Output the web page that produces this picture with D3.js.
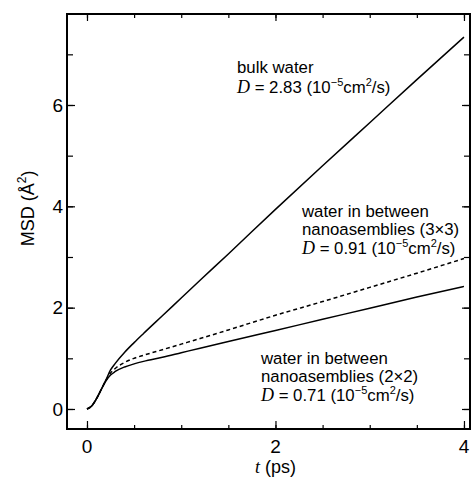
<!DOCTYPE html>
<html>
<head>
<meta charset="utf-8">
<script src="https://cdn.jsdelivr.net/npm/d3@7"></script>
<style>
  body { margin: 0; background: #fff; }
  text { font-family: 'Liberation Sans', Arial, sans-serif; }
</style>
</head>
<body>
<div id="chart"></div>
<script>
// data
let times = [0, 0.05, 0.1, 0.15, 0.2, 0.25, 0.3, 0.4, 0.5, 0.6, 0.8, 1.0, 1.2, 1.5, 2, 2.5, 3, 3.5, 4]
let bulkMsd = [0, 0.06, 0.2, 0.38, 0.57, 0.77, 0.9, 1.12, 1.31, 1.49, 1.84, 2.19, 2.54, 3.06, 3.94, 4.8, 5.65, 6.5, 7.34]
let msd3x3 = [0, 0.06, 0.2, 0.38, 0.56, 0.71, 0.8, 0.92, 1.0, 1.06, 1.17, 1.28, 1.39, 1.56, 1.85, 2.12, 2.4, 2.68, 2.97]
let msd2x2 = [0, 0.06, 0.2, 0.38, 0.55, 0.67, 0.74, 0.83, 0.89, 0.94, 1.02, 1.11, 1.2, 1.33, 1.55, 1.77, 1.99, 2.21, 2.42]
let xTicks = [0, 2, 4]
let yTicks = [0, 2, 4, 6]

let margin = { top: 14, left: 67, right: 2, bottom: 50 }
let width = 472 - margin.left - margin.right
let height = 479 - margin.top - margin.bottom

let svg = d3
  .select('#chart')
  .append('svg')
  .attr('width', 472)
  .attr('height', 479)
  .append('g')
  .attr('transform', 'translate(' + margin.left + ',' + margin.top + ')')

let xScale = d3.scaleLinear().domain([-0.212, 4.064]).range([0, width])
let yScale = d3.scaleLinear().domain([-0.395, 7.796]).range([height, 0])

let series = [
  { name: 'bulk', values: bulkMsd, dash: null },
  { name: '3x3', values: msd3x3, dash: '4,3' },
  { name: '2x2', values: msd2x2, dash: null }
]

let line = d3.line()
  .x(d => xScale(d[0]))
  .y(d => yScale(d[1]))
  .curve(d3.curveMonotoneX)

svg.selectAll('.msd-line')
  .data(series)
  .enter()
  .append('path')
  .attr('class', 'msd-line')
  .attr('d', d => line(times.map((t, i) => [t, d.values[i]])))
  .attr('fill', 'none')
  .attr('stroke', '#000')
  .attr('stroke-width', 1.5)
  .attr('stroke-dasharray', d => d.dash)

// ticks on all four sides, pointing inward
let xMinor = d3.range(0, 4.01, 0.5)
let yMinor = d3.range(0, 7.01, 1)

let bottomAxis = svg.append('g').attr('transform', `translate(0,${height})`)
bottomAxis.call(d3.axisTop(xScale).tickValues(xMinor).tickSize(4).tickFormat(''))
bottomAxis.append('g').call(d3.axisTop(xScale).tickValues(xTicks).tickSize(8).tickFormat(''))

let topAxis = svg.append('g')
topAxis.call(d3.axisBottom(xScale).tickValues(xMinor).tickSize(4).tickFormat(''))
topAxis.append('g').call(d3.axisBottom(xScale).tickValues(xTicks).tickSize(7).tickFormat(''))

let leftAxis = svg.append('g')
leftAxis.call(d3.axisRight(yScale).tickValues(yMinor).tickSize(6).tickFormat(''))
leftAxis.append('g').call(d3.axisRight(yScale).tickValues(yTicks).tickSize(8).tickFormat(''))

let rightAxis = svg.append('g').attr('transform', `translate(${width},0)`)
rightAxis.call(d3.axisLeft(yScale).tickValues(yMinor).tickSize(6).tickFormat(''))
rightAxis.append('g').call(d3.axisLeft(yScale).tickValues(yTicks).tickSize(8).tickFormat(''))

svg.selectAll('.domain').remove()
svg.selectAll('.tick line').attr('stroke', '#000').attr('stroke-width', 1.2)

svg.append('rect')
  .attr('x', 0)
  .attr('y', 0)
  .attr('width', width)
  .attr('height', height)
  .attr('fill', 'none')
  .attr('stroke', '#000')
  .attr('stroke-width', 2)

// tick labels
svg.selectAll('.x-label')
  .data(xTicks)
  .enter()
  .append('text')
  .attr('class', 'x-label')
  .attr('x', d => xScale(d))
  .attr('y', height + 24)
  .attr('text-anchor', 'middle')
  .attr('font-size', 19)
  .text(d => d)

svg.selectAll('.y-label')
  .data(yTicks)
  .enter()
  .append('text')
  .attr('class', 'y-label')
  .attr('x', -4)
  .attr('y', d => yScale(d))
  .attr('dy', '0.36em')
  .attr('text-anchor', 'end')
  .attr('font-size', 19)
  .text(d => d)

// axis titles
let xTitle = svg.append('text')
  .attr('x', xScale(2))
  .attr('y', height + 44)
  .attr('text-anchor', 'middle')
  .attr('font-size', 18)
xTitle.append('tspan').attr('font-family', 'Liberation Serif, serif').attr('font-style', 'italic').text('t')
xTitle.append('tspan').text(' (ps)')

let yTitle = svg.append('text')
  .attr('transform', `translate(-33,${yScale(3.96)}) rotate(-90)`)
  .attr('text-anchor', 'middle')
  .attr('font-size', 18)
yTitle.append('tspan').text('MSD (Å')
yTitle.append('tspan').attr('font-size', 12).attr('dy', -8).text('2')
yTitle.append('tspan').attr('dy', 8).text(')')

// annotations
let notes = [
  { x: 170, y: 59, lines: ['bulk water'], d: '2.83' },
  { x: 235, y: 203, lines: ['water in between', 'nanoasemblies (3×3)'], d: '0.91' },
  { x: 194, y: 350, lines: ['water in between', 'nanoasemblies (2×2)'], d: '0.71' }
]

notes.forEach(n => {
  let g = svg.append('g').attr('transform', `translate(${n.x},${n.y})`)
  n.lines.forEach((l, i) => {
    g.append('text').attr('y', i * 17.5).attr('font-size', 16.8).text(l)
  })
  let t = g.append('text').attr('y', n.lines.length * 17.5 + 2).attr('font-size', 16.8)
  t.append('tspan').attr('font-family', 'Liberation Serif, serif').attr('font-style', 'italic').attr('font-size', 18).text('D')
  t.append('tspan').text(' = ' + n.d + ' (10')
  t.append('tspan').attr('font-size', 11).attr('dy', -7).text('−5')
  t.append('tspan').attr('dy', 7).text('cm')
  t.append('tspan').attr('font-size', 11).attr('dy', -7).text('2')
  t.append('tspan').attr('dy', 7).text('/s)')
})
</script>
</body>
</html>
